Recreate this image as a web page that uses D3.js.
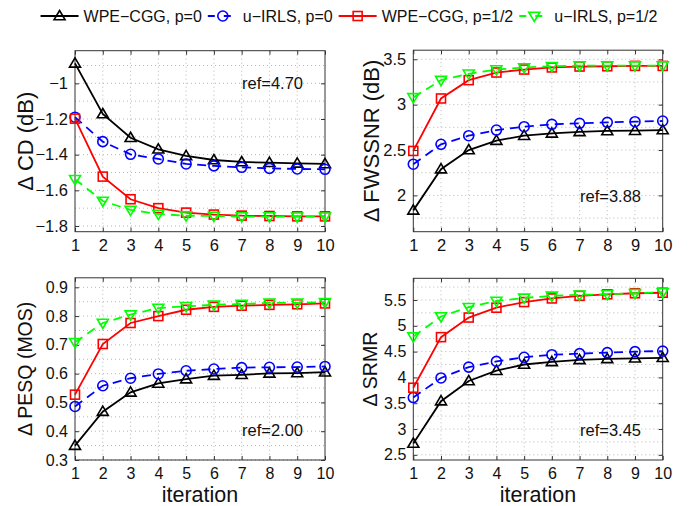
<!DOCTYPE html>
<html lang="en">
<head>
  <meta charset="UTF-8">
  <title>Iteration curves</title>
  <style>
    html, body { margin: 0; padding: 0; background: #fff; }
    svg { display: block; font-family: "Liberation Sans", Arial, sans-serif; }
  </style>
</head>
<body>
<div id="chart"></div>
<script src="https://d3js.org/d3.v7.min.js"></script>
<script>
  const iterations = [1, 2, 3, 4, 5, 6, 7, 8, 9, 10];

  const seriesNames = ['WPE\u2212CGG, p=0', 'u\u2212IRLS, p=0', 'WPE\u2212CGG, p=1/2', 'u\u2212IRLS, p=1/2'];

  // delta CD (dB)
  const cdWpe0 = [-0.888, -1.172, -1.305, -1.37, -1.407, -1.43, -1.441, -1.445, -1.449, -1.452];
  const cdIrls0 = [-1.19, -1.327, -1.398, -1.424, -1.452, -1.463, -1.471, -1.477, -1.48, -1.482];
  const cdWpeHalf = [-1.198, -1.523, -1.65, -1.70, -1.725, -1.736, -1.742, -1.744, -1.746, -1.746];
  const cdIrlsHalf = [-1.538, -1.66, -1.71, -1.733, -1.742, -1.744, -1.747, -1.747, -1.748, -1.748];

  // delta FWSSNR (dB)
  const fwWpe0 = [1.835, 2.289, 2.50, 2.604, 2.658, 2.684, 2.70, 2.71, 2.713, 2.72];
  const fwIrls0 = [2.344, 2.563, 2.658, 2.72, 2.757, 2.783, 2.794, 2.805, 2.812, 2.82];
  const fwWpeHalf = [2.49, 3.068, 3.27, 3.354, 3.387, 3.41, 3.42, 3.423, 3.427, 3.427];
  const fwIrlsHalf = [3.08, 3.27, 3.34, 3.387, 3.41, 3.423, 3.43, 3.43, 3.43, 3.43];

  // delta PESQ (MOS)
  const pesqWpe0 = [0.35, 0.468, 0.535, 0.566, 0.581, 0.593, 0.596, 0.601, 0.602, 0.605];
  const pesqIrls0 = [0.486, 0.558, 0.584, 0.599, 0.61, 0.616, 0.621, 0.622, 0.623, 0.625];
  const pesqWpeHalf = [0.527, 0.703, 0.776, 0.80, 0.822, 0.832, 0.836, 0.839, 0.841, 0.844];
  const pesqIrlsHalf = [0.709, 0.776, 0.805, 0.828, 0.834, 0.839, 0.842, 0.846, 0.846, 0.848];

  // delta SRMR
  const srmrWpe0 = [2.72, 3.54, 3.93, 4.13, 4.25, 4.30, 4.34, 4.36, 4.37, 4.38];
  const srmrIrls0 = [3.61, 3.99, 4.20, 4.31, 4.39, 4.44, 4.46, 4.48, 4.50, 4.51];
  const srmrWpeHalf = [3.80, 4.78, 5.16, 5.35, 5.46, 5.53, 5.58, 5.61, 5.63, 5.64];
  const srmrIrlsHalf = [4.79, 5.18, 5.36, 5.48, 5.54, 5.58, 5.60, 5.61, 5.63, 5.65];

  const cdTicks = [-1.8, -1.6, -1.4, -1.2, -1];
  const cdGrid = [-1.8, -1.7, -1.6, -1.5, -1.4, -1.3, -1.2, -1.1, -1, -0.9];
  const fwTicks = [2, 2.5, 3, 3.5];
  const fwGrid = [1.75, 2, 2.25, 2.5, 2.75, 3, 3.25, 3.5];
  const pesqTicks = [0.3, 0.4, 0.5, 0.6, 0.7, 0.8, 0.9];
  const pesqGrid = [0.3, 0.35, 0.4, 0.45, 0.5, 0.55, 0.6, 0.65, 0.7, 0.75, 0.8, 0.85, 0.9];
  const srmrTicks = [2.5, 3, 3.5, 4, 4.5, 5, 5.5];
  const srmrGrid = [2.5, 2.75, 3, 3.25, 3.5, 3.75, 4, 4.25, 4.5, 4.75, 5, 5.25, 5.5, 5.75];

  const styles = [
    { color: '#000000', dash: null, marker: 'up' },
    { color: '#0000ff', dash: '9,6', marker: 'circle' },
    { color: '#ff0000', dash: null, marker: 'square' },
    { color: '#00ff00', dash: '9,6', marker: 'down' },
  ];

  const panels = [
    { label: '\u0394 CD (dB)', series: [cdWpe0, cdIrls0, cdWpeHalf, cdIrlsHalf], domain: [-1.832, -0.817],
      ticks: cdTicks, grid: cdGrid, ref: 'ref=4.70', box: [75, 325, 50.7, 231.7], labelX: 25, refPos: [242, 89],
      xlabel: false, labelSize: 22, tickSize: 16.5 },
    { label: '\u0394 FWSSNR (dB)', series: [fwWpe0, fwIrls0, fwWpeHalf, fwIrlsHalf], domain: [1.6, 3.6],
      ticks: fwTicks, grid: fwGrid, ref: 'ref=3.88', box: [413.3, 662.7, 50.2, 231.7], labelX: 371, refPos: [580, 202],
      xlabel: false, labelSize: 22, tickSize: 16.5 },
    { label: '\u0394 PESQ (MOS)', series: [pesqWpe0, pesqIrls0, pesqWpeHalf, pesqIrlsHalf], domain: [0.3, 0.933],
      ticks: pesqTicks, grid: pesqGrid, ref: 'ref=2.00', box: [75, 325, 277.8, 460], labelX: 25, refPos: [242, 436],
      xlabel: true, labelSize: 19.5, tickSize: 16 },
    { label: '\u0394 SRMR', series: [srmrWpe0, srmrIrls0, srmrWpeHalf, srmrIrlsHalf], domain: [2.4, 5.92],
      ticks: srmrTicks, grid: srmrGrid, ref: 'ref=3.45', box: [413.3, 662.7, 278.3, 460], labelX: 370, refPos: [580, 436],
      xlabel: true, labelSize: 19.5, tickSize: 16 },
  ];

  const width = 695;
  const height = 506;

  const svg = d3.select('#chart').append('svg')
    .attr('width', width)
    .attr('height', height);

  const fmt = v => String(v).replace('-', '\u2212');

  const drawMarker = (g, kind, x, y, color) => {
    const s = 5;
    if (kind === 'circle') {
      g.append('circle').attr('cx', x).attr('cy', y).attr('r', s)
        .attr('fill', 'none').attr('stroke', color).attr('stroke-width', 1.6);
    } else if (kind === 'square') {
      g.append('rect').attr('x', x - s + 0.5).attr('y', y - s + 0.5).attr('width', 2 * s - 1).attr('height', 2 * s - 1)
        .attr('fill', 'none').attr('stroke', color).attr('stroke-width', 1.6);
    } else {
      const d = kind === 'up'
        ? `M${x},${y - s * 1.1}L${x + s * 1.1},${y + s * 0.75}L${x - s * 1.1},${y + s * 0.75}Z`
        : `M${x},${y + s * 1.1}L${x + s * 1.1},${y - s * 0.75}L${x - s * 1.1},${y - s * 0.75}Z`;
      g.append('path').attr('d', d)
        .attr('fill', 'none').attr('stroke', color).attr('stroke-width', 1.6);
    }
  };

  panels.forEach(p => {
    const [x0, x1, y0, y1] = p.box;
    const x = d3.scaleLinear().domain([1, 10]).range([x0, x1]);
    const y = d3.scaleLinear().domain(p.domain).range([y1, y0]);
    const g = svg.append('g');

    // grid
    g.append('g').selectAll('line.h').data(p.grid).join('line')
      .attr('x1', x0).attr('x2', x1)
      .attr('y1', d => y(d)).attr('y2', d => y(d))
      .attr('stroke', '#b8b8b8').attr('stroke-width', 1).attr('stroke-dasharray', '1,3');
    g.append('g').selectAll('line.v').data(iterations.slice(1, -1)).join('line')
      .attr('x1', d => x(d)).attr('x2', d => x(d))
      .attr('y1', y0).attr('y2', y1)
      .attr('stroke', '#b8b8b8').attr('stroke-width', 1).attr('stroke-dasharray', '1,3');

    // axes
    const yAxis = d3.axisLeft(y).tickValues(p.ticks).tickSize(-4).tickPadding(7).tickFormat(fmt);
    const xAxis = d3.axisBottom(x).tickValues(iterations).tickSize(-4).tickPadding(8).tickFormat(d3.format('d'));
    const ya = g.append('g').attr('transform', `translate(${x0},0)`).call(yAxis);
    const xa = g.append('g').attr('transform', `translate(0,${y1})`).call(xAxis);
    g.append('g').attr('transform', `translate(${x1},0)`)
      .call(d3.axisRight(y).tickValues(p.ticks).tickSize(-4).tickFormat(''));
    g.append('g').attr('transform', `translate(0,${y0})`)
      .call(d3.axisTop(x).tickValues(iterations).tickSize(-4).tickFormat(''));
    g.selectAll('.domain').remove();
    g.selectAll('.tick line').attr('stroke', '#333');
    [ya, xa].forEach(a => a.selectAll('text')
      .attr('font-size', p.tickSize).attr('fill', '#111')
      .attr('font-family', '"Liberation Sans", Arial, sans-serif'));

    g.append('rect').attr('x', x0).attr('y', y0)
      .attr('width', x1 - x0).attr('height', y1 - y0)
      .attr('fill', 'none').attr('stroke', '#333').attr('stroke-width', 1);

    // series
    const line = d3.line().x((d, i) => x(iterations[i])).y(d => y(d));
    p.series.forEach((vals, k) => {
      const st = styles[k];
      g.append('path').datum(vals).attr('d', line)
        .attr('fill', 'none').attr('stroke', st.color).attr('stroke-width', 1.8)
        .attr('stroke-dasharray', st.dash);
      const mg = g.append('g');
      vals.forEach((v, i) => drawMarker(mg, st.marker, x(iterations[i]), y(v), st.color));
    });

    g.append('text').attr('x', p.refPos[0]).attr('y', p.refPos[1])
      .attr('font-size', 16.5).attr('fill', '#111').text(p.ref);

    g.append('text')
      .attr('transform', `translate(${p.labelX},${(y0 + y1) / 2}) rotate(-90)`)
      .attr('text-anchor', 'middle').attr('dy', '0.35em')
      .attr('font-size', p.labelSize).attr('fill', '#111').text(p.label);

    if (p.xlabel) {
      g.append('text').attr('x', (x0 + x1) / 2).attr('y', 502)
        .attr('text-anchor', 'middle').attr('font-size', 21.5).attr('fill', '#111').text('iteration');
    }
  });

  // legend
  const legend = svg.append('g');
  const ly = 16;
  let cx = 0;
  seriesNames.forEach((name, k) => {
    const it = legend.append('g');
    const st = styles[k];
    const sampleW = st.dash ? 30 : 38;
    it.append('line').attr('x1', 0).attr('x2', sampleW).attr('y1', 0).attr('y2', 0)
      .attr('stroke', st.color).attr('stroke-width', 1.8).attr('stroke-dasharray', st.dash ? '7,9' : null);
    drawMarker(it, st.marker, sampleW / 2, 0, st.color);
    const t = it.append('text').attr('x', sampleW + 5).attr('dy', '0.35em')
      .attr('font-size', 16).attr('fill', '#111').text(name);
    const w = sampleW + 5 + t.node().getComputedTextLength();
    it.attr('transform', `translate(${cx},${ly})`);
    cx += w + 6;
  });
  const total = cx - 6;
  legend.attr('transform', `translate(${349 - total / 2},0)`);
</script>
</body>
</html>
